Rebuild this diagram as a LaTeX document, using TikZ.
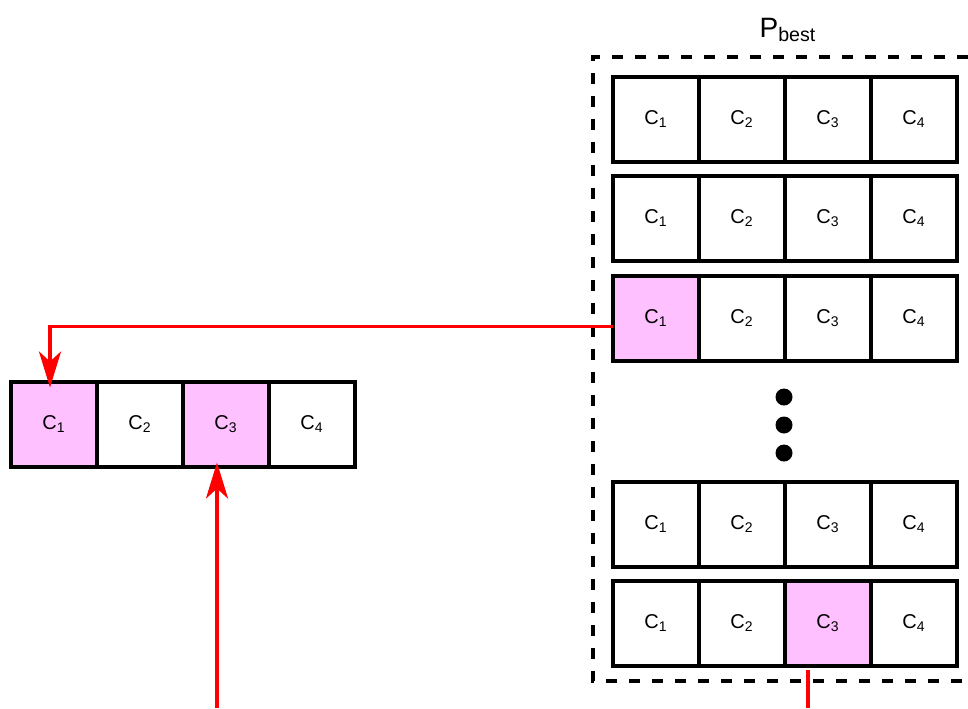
\documentclass[tikz,border=0pt]{standalone}
\usepackage{fontspec}
\setmainfont{Liberation Sans}
\usetikzlibrary{arrows.meta}
\usetikzlibrary{positioning}
\definecolor{rosa}{RGB}{255,192,255}
\tikzset{
  celula/.style={draw, line width=2pt, fill=white, outer sep=0pt, inner sep=0pt, minimum width=43pt, minimum height=42.5pt, font=\fontsize{10}{12}\selectfont},
  marcada/.style={celula, fill=rosa},
  ponto/.style={circle, fill=black, inner sep=0pt, minimum size=8.5pt},
  moldura/.style={draw, line width=2pt, dash pattern=on 5.5pt off 6pt},
  seta/.style={-{Stealth[length=18pt, width=11pt, inset=5pt]}, draw=red, line width=1.8pt},
  ligacao/.style={draw=red, line width=1.8pt},
}

\begin{document}
\begin{tikzpicture}[x=0.5pt, y=-0.5pt]
  \useasboundingbox (0,0) rectangle (968,708);

  % populacao P_best
  \node[font=\fontsize{14}{17}\selectfont] (pbest) at (788,30) {P\textsubscript{best}};
  \draw[moldura] (968,57) -| (593,681) -- (968,681);
  \foreach \l/\y/\fa/\fc in {1/119.5/white/white, 2/218.5/white/white, 3/318.5/rosa/white, 4/524.5/white/white, 5/623.5/white/rosa} {
    \node[celula, fill=\fa] (p\l-1) at (656,\y) {C\textsubscript{1}};
    \node[celula, right=0pt of p\l-1] (p\l-2) {C\textsubscript{2}};
    \node[celula, fill=\fc, right=0pt of p\l-2] (p\l-3) {C\textsubscript{3}};
    \node[celula, right=0pt of p\l-3] (p\l-4) {C\textsubscript{4}};
  }
  \node[ponto] (d1) at (784,397) {};
  \node[ponto] (d2) at (784,425) {};
  \node[ponto] (d3) at (784,453) {};

  % novo individuo
  \node[marcada] (e1) at (54,424) {C\textsubscript{1}};
  \node[celula, right=0pt of e1] (e2) {C\textsubscript{2}};
  \node[marcada, right=0pt of e2] (e3) {C\textsubscript{3}};
  \node[celula, right=0pt of e3] (e4) {C\textsubscript{4}};

  \coordinate (baixo) at (217,708);
  \coordinate (saida) at (808,708);
  \draw[seta] ([yshift=-4pt]p3-1.west) -| ([xshift=-2pt, yshift=-3pt]e1.north);
  \draw[seta] (baixo) -- ([xshift=-4.5pt, yshift=2pt]e3.south);
  \draw[ligacao] ([xshift=-10pt, yshift=-2pt]p5-3.south) -- (saida);
\end{tikzpicture}
\end{document}
